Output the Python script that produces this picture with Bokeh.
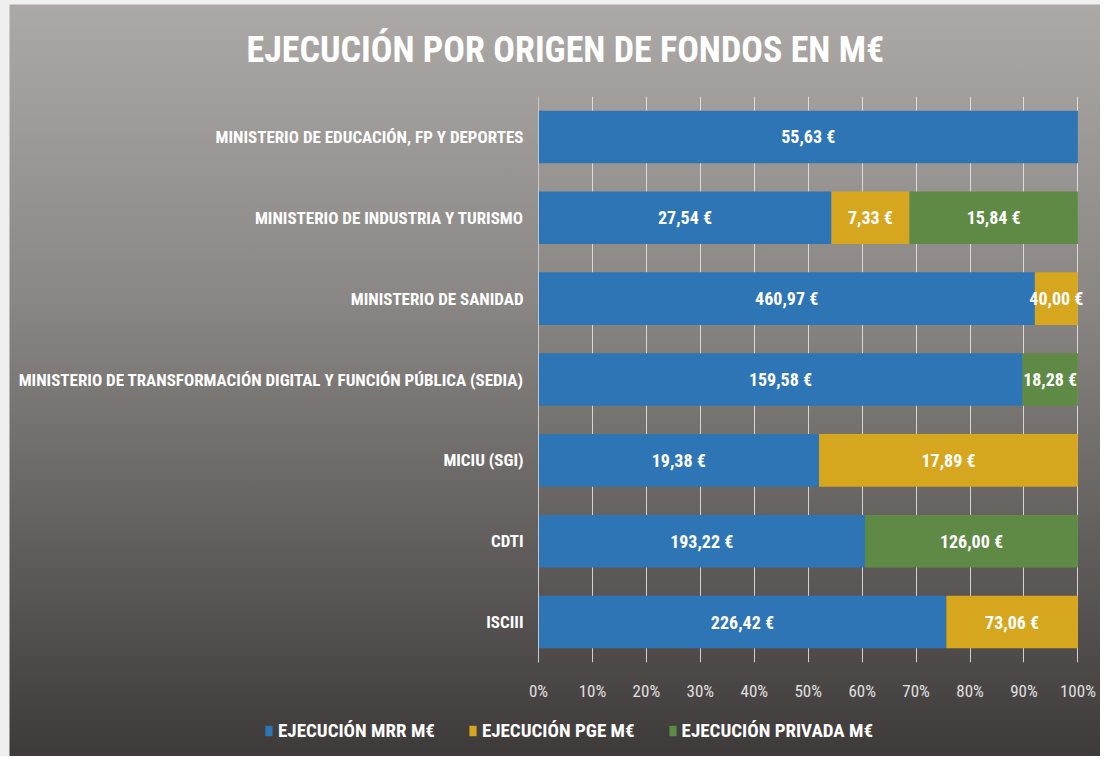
from bokeh.plotting import figure
from bokeh.layouts import column
from bokeh.models import (ColumnDataSource, FactorRange, Range1d, FixedTicker,
                          NumeralTickFormatter, LabelSet, Legend, LegendItem, Title)
from bokeh.core.properties import value
from bokeh.embed import file_html
from bokeh.resources import INLINE

FONT = "Roboto Condensed, DejaVu Sans Condensed, Open Sans"

categories = [
    "MINISTERIO DE EDUCACIÓN, FP Y DEPORTES",
    "MINISTERIO DE INDUSTRIA Y TURISMO",
    "MINISTERIO DE SANIDAD",
    "MINISTERIO DE TRANSFORMACIÓN DIGITAL Y FUNCIÓN PÚBLICA (SEDIA)",
    "MICIU (SGI)",
    "CDTI",
    "ISCIII",
]
mrr = [55.63, 27.54, 460.97, 159.58, 19.38, 193.22, 226.42]
pge = [0.0, 7.33, 40.00, 0.0, 17.89, 0.0, 73.06]
privada = [0.0, 15.84, 0.0, 18.28, 0.0, 126.00, 0.0]

series_names = ["EJECUCIÓN MRR M€", "EJECUCIÓN PGE M€", "EJECUCIÓN PRIVADA M€"]
colors = ["#2E75B6", "#D6A61E", "#5E8A45"]
tick_values = [i / 10 for i in range(11)]

totals = [a + b + c for a, b, c in zip(mrr, pge, privada)]
series = [mrr, pge, privada]

p = figure(
    width=1100, height=705,
    y_range=FactorRange(factors=list(reversed(categories))),
    x_range=Range1d(0, 1.04),
    output_backend="svg", toolbar_location=None,
    min_border_left=538, min_border_right=1, min_border_top=94, min_border_bottom=43,
)
p.frame_align = False
p.background_fill_color = None
p.border_fill_color = None
p.outline_line_color = None

title = Title(text="EJECUCIÓN POR ORIGEN DE FONDOS EN M€", align="left", offset=-292,
              text_font=FONT, text_font_size="36px", text_font_style="bold",
              text_color="white", standoff=52)
p.add_layout(title, "above")

# legend strip below the chart
pl = figure(width=1100, height=51, x_range=Range1d(0, 1.04),
            y_range=FactorRange(factors=list(reversed(categories))),
            output_backend="svg", toolbar_location=None,
            min_border_left=0, min_border_right=0, min_border_top=0, min_border_bottom=0)
pl.frame_align = False
pl.axis.visible = False
pl.grid.visible = False
pl.background_fill_color = None
pl.border_fill_color = None
pl.outline_line_color = None

legend_items = []
lab_x, lab_y, lab_t = [], [], []
left = [0.0] * len(categories)
for name, vals, col in zip(series_names, series, colors):
    frac = [v / t for v, t in zip(vals, totals)]
    right = [l + f for l, f in zip(left, frac)]
    src = ColumnDataSource(dict(cat=categories, left=left, right=right))
    p.hbar(y="cat", left="left", right="right", height=0.65, source=src,
           fill_color=col, line_color=None)
    rl = pl.hbar(y="cat", left="left", right="right", height=0.65, source=src,
                 fill_color=col, line_color=None, visible=False)
    legend_items.append(LegendItem(label=name, renderers=[rl]))
    for c, v, l, rr in zip(categories, vals, left, right):
        if v > 0:
            lab_x.append((l + rr) / 2)
            lab_y.append(c)
            lab_t.append(f"{v:.2f}".replace(".", ",") + " €")
    left = right

lab_src = ColumnDataSource(dict(x=lab_x, y=lab_y, t=lab_t))
labels = LabelSet(x="x", y="y", text="t", source=lab_src, text_align="center",
                  text_baseline="middle", text_color="white", text_font=value(FONT),
                  text_font_size="18px", text_font_style="bold")
p.add_layout(labels)

p.xaxis.ticker = FixedTicker(ticks=tick_values)
p.xaxis.formatter = NumeralTickFormatter(format="0%")
p.xaxis.axis_line_color = None
p.xaxis.major_tick_line_color = None
p.xaxis.minor_tick_line_color = None
p.xaxis.major_label_text_color = "#E0E0E0"
p.xaxis.major_label_text_font = FONT
p.xaxis.major_label_text_font_size = "17px"
p.xaxis.major_label_standoff = 12

p.yaxis.axis_line_color = "#C8C8C8"
p.yaxis.major_tick_line_color = None
p.yaxis.minor_tick_line_color = None
p.yaxis.major_label_text_color = "white"
p.yaxis.major_label_text_font = FONT
p.yaxis.major_label_text_font_size = "17px"
p.yaxis.major_label_text_font_style = "bold"
p.yaxis.major_label_standoff = 9

p.xgrid.ticker = FixedTicker(ticks=tick_values)
p.xgrid.grid_line_color = "#E8E8E8"
p.xgrid.grid_line_alpha = 0.85
p.ygrid.grid_line_color = None

legend = Legend(items=legend_items, orientation="horizontal", location=(262, 12),
                label_text_color="white", label_text_font=FONT, label_text_font_size="19px",
                label_text_font_style="bold", glyph_width=9, glyph_height=13,
                spacing=33, label_standoff=5, background_fill_alpha=0,
                border_line_alpha=0, margin=0, padding=2)
pl.add_layout(legend, "center")

layout = column(p, pl, spacing=0)
layout.styles = {
    "background": ("linear-gradient(to right, #EFEFEF 0px, #EFEFEF 9px, transparent 10px), "
                   "linear-gradient(to bottom, #EFEFEF 0px, #EFEFEF 4px, transparent 5px), "
                   "linear-gradient(to bottom, #ADA9A7 0%, #8A8684 40%, #3E3A39 100%)"),
    "width": "1100px", "height": "756px",
}

open("out.html", "w").write(file_html(layout, INLINE))
